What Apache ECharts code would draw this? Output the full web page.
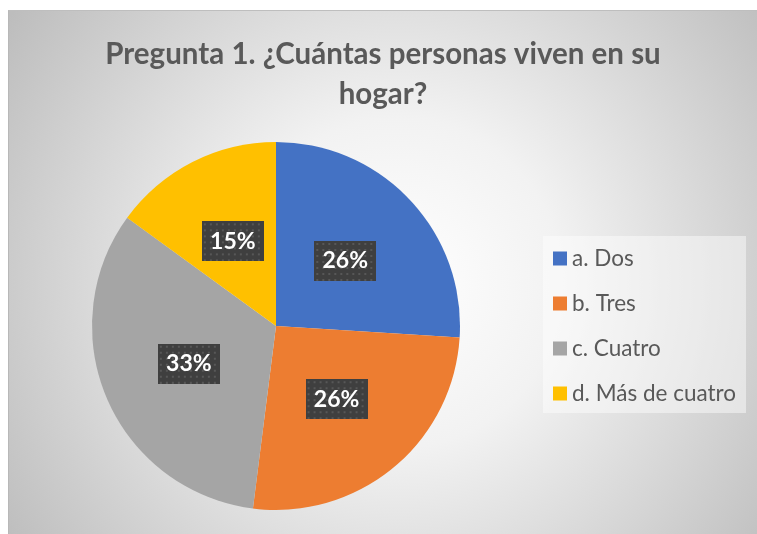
<!DOCTYPE html>
<html>
<head>
<meta charset="utf-8">
<script src="https://cdn.jsdelivr.net/npm/echarts@6/dist/echarts.min.js"></script>
<style>
  html, body { margin: 0; padding: 0; background: #ffffff; }
  #chart {
    position: absolute; left: 8px; top: 10px;
    width: 749px; height: 524px;
    box-sizing: border-box;
    border-left: 1px solid #b8b8b8;
    border-top: 1px solid #bebebe;
  }
</style>
</head>
<body>
<div id="chart"></div>
<script>
  // datos de la pregunta 1
  const categorias = ['a. Dos', 'b. Tres', 'c. Cuatro', 'd. Más de cuatro'];
  const porcentajes = [26, 26, 33, 15];
  const colores = ['#4472C4', '#ED7D31', '#A5A5A5', '#FFC000'];

  // fondo punteado de las etiquetas (como el relleno de trama de Excel)
  function tramaEtiqueta (w, h) {
    const c = document.createElement('canvas');
    c.width = w; c.height = h;
    const ctx = c.getContext('2d');
    ctx.fillStyle = '#3f3f3f';
    ctx.fillRect(0, 0, w, h);
    ctx.fillStyle = '#575757';
    for (let y = 2; y < h; y += 6) {
      for (let x = 2; x < w; x += 6) {
        ctx.fillRect(x, y, 2, 2);
      }
    }
    return c;
  }
  const trama = tramaEtiqueta(62, 40);

  const chart = echarts.init(document.getElementById('chart'));

  const option = {
    backgroundColor: {
      type: 'radial', x: 0.52, y: 0.52, r: 0.9,
      colorStops: [
        { offset: 0, color: '#ffffff' },
        { offset: 0.35, color: '#f2f2f2' },
        { offset: 1, color: '#bdbdbd' }
      ]
    },
    title: {
      text: 'Pregunta 1. ¿Cuántas personas viven en su\nhogar?',
      left: 'center',
      top: 18,
      textStyle: {
        fontFamily: 'Lato',
        fontWeight: 'bold',
        fontSize: 29.5,
        lineHeight: 40,
        color: '#595959'
      }
    },
    legend: {
      orient: 'vertical',
      left: 534,
      top: 225,
      icon: 'rect',
      itemWidth: 14,
      itemHeight: 14,
      itemGap: 22,
      padding: [11, 10, 8, 10],
      backgroundColor: 'rgba(255,255,255,0.45)',
      selectedMode: false,
      textStyle: {
        fontFamily: 'Lato',
        fontSize: 22.5,
        lineHeight: 22,
        color: '#595959'
      },
      data: categorias
    },
    series: [{
      type: 'pie',
      center: [267, 315],
      radius: 184,
      startAngle: 90,
      clockwise: true,
      silent: true,
      itemStyle: { borderWidth: 0 },
      label: {
        show: true,
        position: 'inside',
        formatter: '{d}%',
        fontFamily: 'Lato',
        fontWeight: 'bold',
        fontSize: 23,
        color: '#ffffff',
        width: 48,
        height: 24,
        lineHeight: 24,
        align: 'center',
        verticalAlign: 'middle',
        padding: [8, 7],
        backgroundColor: { image: trama },
        shadowColor: 'rgba(0,0,0,0.45)',
        shadowBlur: 6,
        shadowOffsetX: 3,
        shadowOffsetY: 3
      },
      labelLine: { show: false },
      data: categorias.map((nombre, i) => ({
        name: nombre,
        value: porcentajes[i],
        itemStyle: { color: colores[i] }
      }))
    }]
  };

  chart.setOption(option);
</script>
</body>
</html>
